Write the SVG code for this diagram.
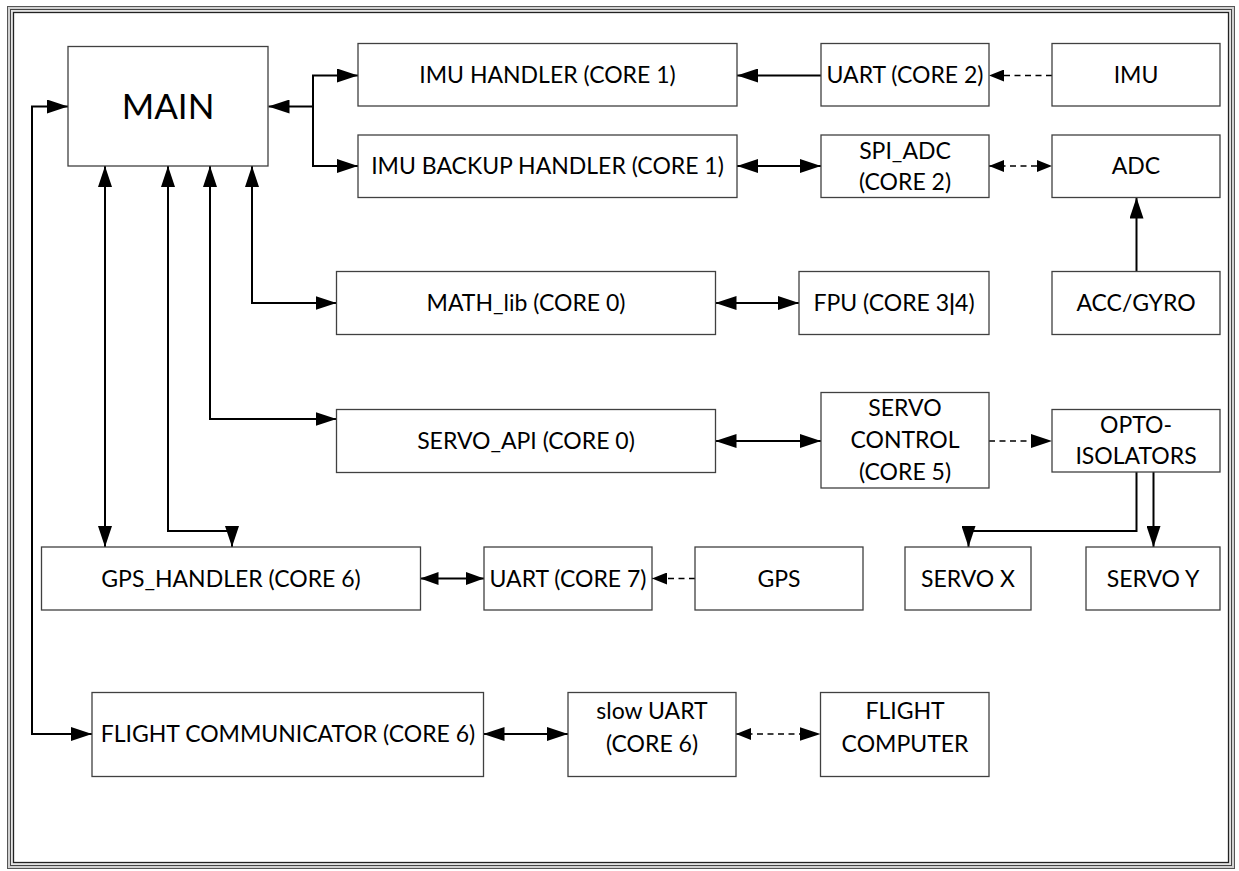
<svg xmlns="http://www.w3.org/2000/svg" width="1239" height="871" viewBox="0 0 1239 871">
<style>
.box{fill:#fff;stroke:#404040;stroke-width:1.3}
.t{font-family:Lato,"Open Sans",sans-serif;font-size:23px;fill:#000;text-anchor:middle}
.big{font-size:35px}
.c{fill:none;stroke:#000;stroke-width:2}
.d{fill:none;stroke:#000;stroke-width:1.5;stroke-dasharray:6 4.5}
</style>
<defs>
<marker id="ab" markerUnits="userSpaceOnUse" markerWidth="21" markerHeight="14" refX="21" refY="7" orient="auto-start-reverse"><path d="M0,0 L21,7 L0,14 Z" fill="#000"/></marker>
<marker id="am" markerUnits="userSpaceOnUse" markerWidth="18" markerHeight="13" refX="18" refY="6.5" orient="auto-start-reverse"><path d="M0,0 L18,6.5 L0,13 Z" fill="#000"/></marker>
<marker id="as" markerUnits="userSpaceOnUse" markerWidth="15" markerHeight="12" refX="15" refY="6" orient="auto-start-reverse"><path d="M0,0 L15,6 L0,12 Z" fill="#000"/></marker>
</defs>
<g id="frame">
<rect x="7.5" y="6.5" width="1227" height="862" fill="#d0d0d0" stroke="#555" stroke-width="1"/>
<rect x="10.5" y="9.5" width="1221" height="856" fill="#e4e4e4" stroke="#444" stroke-width="1"/>
<rect x="13.5" y="12.5" width="1215" height="850" fill="#fff" stroke="#222" stroke-width="1.3"/>
</g>
<g id="connectors">
<path class="c" d="M313,106.5 H268.5" stroke-width="3.5" marker-end="url(#ab)"/>
<path class="c" d="M358,75.5 H313 V166 H358" marker-start="url(#ab)" marker-end="url(#ab)"/>
<path class="c" d="M821,75.5 H737" marker-end="url(#ab)"/>
<path class="d" d="M1052,75.5 H989" marker-end="url(#as)"/>
<path class="c" d="M737,166 H821" marker-start="url(#ab)" marker-end="url(#ab)"/>
<path class="d" d="M989,166 H1052" marker-start="url(#as)" marker-end="url(#as)"/>
<path class="c" d="M1136.5,271.5 V197.5" marker-end="url(#ab)"/>
<path class="c" d="M252,166 V303 H336.5" marker-start="url(#ab)" marker-end="url(#ab)"/>
<path class="c" d="M210,166 V419 H336.5" marker-start="url(#ab)" marker-end="url(#ab)"/>
<path class="c" d="M105,166 V547" marker-start="url(#ab)" marker-end="url(#ab)"/>
<path class="c" d="M168,166 V531 H232 V547" marker-start="url(#ab)" marker-end="url(#ab)"/>
<path class="c" d="M68,106.5 H32 V734 H92" marker-start="url(#ab)" marker-end="url(#ab)"/>
<path class="c" d="M715.5,303 H799" marker-start="url(#ab)" marker-end="url(#ab)"/>
<path class="c" d="M715.5,441 H821" marker-start="url(#ab)" marker-end="url(#ab)"/>
<path class="d" d="M989,441 H1052" marker-end="url(#ab)"/>
<path class="c" d="M1136.5,472 V531 H968.5 V547" marker-end="url(#ab)"/>
<path class="c" d="M1153.5,472 V547" marker-end="url(#ab)"/>
<path class="c" d="M420.5,578.5 H484" marker-start="url(#am)" marker-end="url(#am)"/>
<path class="d" d="M695,578.5 H652" marker-end="url(#as)"/>
<path class="c" d="M483.5,734 H568" marker-start="url(#ab)" marker-end="url(#ab)"/>
<path class="d" d="M736,734 H820.5" marker-start="url(#as)" marker-end="url(#ab)"/>
</g>
<g id="main"><rect class="box" x="68" y="46.5" width="200" height="119.5"/><text class="t big" x="168" y="118.5">MAIN</text></g>
<g id="imu_handler"><rect class="box" x="358" y="43.5" width="379" height="62.5"/><text class="t" x="547.5" y="82.8">IMU HANDLER (CORE 1)</text></g>
<g id="uart2"><rect class="box" x="821" y="43.5" width="168" height="62.5"/><text class="t" x="905" y="82.8">UART (CORE 2)</text></g>
<g id="imu"><rect class="box" x="1052" y="43.5" width="168" height="62.5"/><text class="t" x="1136" y="82.8">IMU</text></g>
<g id="imu_backup"><rect class="box" x="358" y="135" width="379" height="62.5"/><text class="t" x="547.5" y="174.3">IMU BACKUP HANDLER (CORE 1)</text></g>
<g id="spi_adc"><rect class="box" x="821" y="135" width="168" height="62.5"/><text class="t" x="905" y="158.8">SPI_ADC</text><text class="t" x="905" y="190.3">(CORE 2)</text></g>
<g id="adc"><rect class="box" x="1052" y="135" width="168" height="62.5"/><text class="t" x="1136" y="174.3">ADC</text></g>
<g id="math_lib"><rect class="box" x="336.5" y="271.5" width="379" height="63"/><text class="t" x="526" y="311.3">MATH_lib (CORE 0)</text></g>
<g id="fpu"><rect class="box" x="799" y="271.5" width="190" height="63"/><text class="t" x="894" y="311.3">FPU (CORE 3<tspan font-weight="bold">|</tspan>4)</text></g>
<g id="acc_gyro"><rect class="box" x="1052" y="271.5" width="168" height="63"/><text class="t" x="1136" y="311.3">ACC/GYRO</text></g>
<g id="servo_api"><rect class="box" x="336.5" y="409.5" width="379" height="63"/><text class="t" x="526" y="449.3">SERVO_API (CORE 0)</text></g>
<g id="servo_control"><rect class="box" x="821" y="392.5" width="168" height="95.5"/><text class="t" x="905" y="416">SERVO</text><text class="t" x="905" y="448.3">CONTROL</text><text class="t" x="905" y="480">(CORE 5)</text></g>
<g id="opto"><rect class="box" x="1052" y="409.5" width="168" height="62.5"/><text class="t" x="1136" y="433">OPTO-</text><text class="t" x="1136" y="464">ISOLATORS</text></g>
<g id="gps_handler"><rect class="box" x="41.5" y="547" width="379" height="63"/><text class="t" x="231" y="586.8">GPS_HANDLER (CORE 6)</text></g>
<g id="uart7"><rect class="box" x="484" y="547" width="168" height="63"/><text class="t" x="568" y="586.8">UART (CORE 7)</text></g>
<g id="gps"><rect class="box" x="695" y="547" width="168" height="63"/><text class="t" x="779" y="586.8">GPS</text></g>
<g id="servo_x"><rect class="box" x="905" y="547" width="126" height="63"/><text class="t" x="968" y="586.8">SERVO X</text></g>
<g id="servo_y"><rect class="box" x="1086" y="547" width="134" height="63"/><text class="t" x="1153" y="586.8">SERVO Y</text></g>
<g id="flight_comm"><rect class="box" x="92" y="692.5" width="391.5" height="84"/><text class="t" x="288" y="742.3">FLIGHT COMMUNICATOR (CORE 6)</text></g>
<g id="slow_uart"><rect class="box" x="568" y="692.5" width="168" height="84"/><text class="t" x="652" y="719">slow UART</text><text class="t" x="652" y="751.5">(CORE 6)</text></g>
<g id="flight_computer"><rect class="box" x="820.5" y="692.5" width="168.5" height="84"/><text class="t" x="905" y="719">FLIGHT</text><text class="t" x="905" y="752">COMPUTER</text></g>
</svg>
